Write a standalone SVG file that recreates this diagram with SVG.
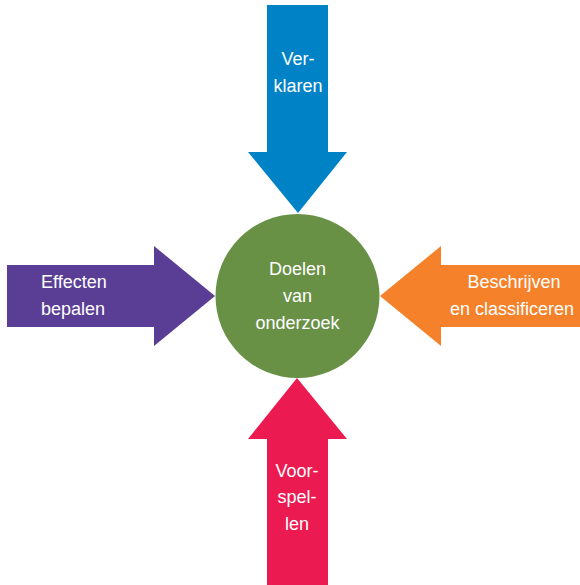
<svg xmlns="http://www.w3.org/2000/svg" width="580" height="585" viewBox="0 0 580 585">
<style>
text{font-family:"Liberation Sans",Arial,sans-serif;font-size:18px;fill:#ffffff}
.c{text-anchor:middle}
</style>
<rect width="580" height="585" fill="#ffffff"/>
<g id="connectors">
<g id="arrow-top">
<polygon points="267,5 328,5 328,152 347,152 298,213 248,152 267,152" fill="#0083c6"/>
<text class="c" x="298" y="65">Ver-</text>
<text class="c" x="298" y="92">klaren</text>
</g>
<g id="arrow-left">
<polygon points="7,265 154,265 154,246 215,296 154,346 154,327 7,327" fill="#5a3e96"/>
<text x="41" y="288">Effecten</text>
<text x="41" y="315">bepalen</text>
</g>
<g id="arrow-right">
<polygon points="580,265 441,265 441,246 380,296 441,346 441,327 580,327" fill="#f5822a"/>
<text class="c" x="514" y="288">Beschrijven</text>
<text class="c" x="512" y="315">en classificeren</text>
</g>
<g id="arrow-bottom">
<polygon points="267,585 328,585 328,439 347,439 297,378 248,439 267,439" fill="#eb1a50"/>
<text class="c" x="297" y="477">Voor-</text>
<text class="c" x="297" y="503">spel-</text>
<text class="c" x="297" y="530">len</text>
</g>
</g>
<g id="node-center">
<circle cx="297.5" cy="296" r="82" fill="#699146"/>
<text class="c" x="297.5" y="275">Doelen</text>
<text class="c" x="297.5" y="302">van</text>
<text class="c" x="297.5" y="329">onderzoek</text>
</g>
</svg>
